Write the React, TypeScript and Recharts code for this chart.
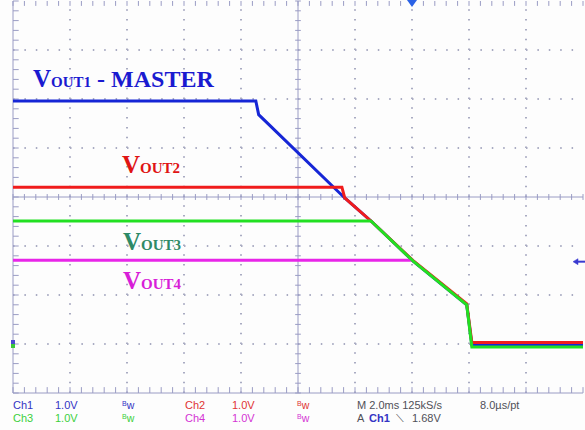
import React from "react";
import { LineChart, Line, XAxis, YAxis, ReferenceLine, ReferenceDot } from "recharts";

// Scope capture, 10 x 8 divisions (2.0 ms/div, 1.0 V/div). x = time in div, y = level in div.
const ch1Time = [0, 4.26, 4.31, 5.82, 6.3, 7.02, 7.96, 8.05, 10];
const ch1Level = [5.96, 5.96, 5.68, 3.98, 3.49, 2.69, 1.8, 0.98, 0.98];

const ch2Time = [0, 5.77, 5.82, 6.3, 7.02, 7.96, 8.05, 10];
const ch2Level = [4.2, 4.2, 3.98, 3.49, 2.7, 1.82, 1.03, 1.03];

const ch4Time = [0, 7.02];
const ch4Level = [2.71, 2.71];

const ch3Time = [0, 6.28, 6.3, 7.02, 7.96, 8.05, 10];
const ch3Level = [3.51, 3.51, 3.49, 2.69, 1.8, 0.94, 0.94];

const DIV_X = 10;
const DIV_Y = 8;
const triggerTime = 7;
const triggerLevel = 2.68;
const groundLevel = 1;

const COLOR_CH1 = "#1626d6";
const COLOR_CH2 = "#f01c1c";
const COLOR_CH3 = "#22e022";
const COLOR_CH4 = "#e826e8";
const AXIS = "#9a9cc4";
const DOTS = "#a9abc2";

const toPoints = (t: number[], v: number[]) => t.map((x, i) => ({ x, y: v[i] }));

const range = (n: number, step: number) => Array.from({ length: n + 1 }, (_, i) => +(i * step).toFixed(3));

const minorX = range(DIV_X * 5, 0.2);
const minorY = range(DIV_Y * 5, 0.2);

function Label({ x, y, main, sub, color, rest }: { x: number; y: number; main: string; sub: string; color: string; rest?: string }) {
  return (
    <text x={x} y={y} fill={color} fontFamily="'Liberation Serif', 'Times New Roman', serif" fontWeight="bold">
      <tspan fontSize={25}>{main}</tspan>
      <tspan fontSize={15}>{sub}</tspan>
      {rest && <tspan fontSize={24}>{rest}</tspan>}
    </text>
  );
}

function Bw({ x, y, color }: { x: number; y: number; color: string }) {
  return (
    <text x={x} y={y} fill={color} fontFamily="'Liberation Sans', Arial, sans-serif">
      <tspan fontSize={7} dy={-3}>B</tspan>
      <tspan fontSize={10.5} dy={3}>w</tspan>
    </text>
  );
}

export default function App() {
  const gridSolid = { stroke: AXIS, strokeWidth: 1, ifOverflow: "visible" as const };
  const trace = { dataKey: "y", type: "linear" as const, strokeWidth: 3, dot: false, isAnimationActive: false };
  return (
    <div style={{ position: "absolute", left: 0, top: 0, width: 585, height: 430, background: "#fdfdfd" }}>
      <LineChart width={585} height={430} margin={{ top: 1, right: 2, left: 13, bottom: 37 }}>
        <XAxis type="number" dataKey="x" domain={[0, DIV_X]} hide allowDataOverflow />
        <YAxis type="number" dataKey="y" domain={[0, DIV_Y]} hide allowDataOverflow />

        {/* dotted graticule */}
        {[1, 2, 3, 5, 6, 7].map((v) => (
          <ReferenceLine key={"h" + v} y={v} stroke={DOTS} strokeWidth={2} strokeDasharray="1.5 9.9" />
        ))}
        {[1, 2, 3, 4, 6, 7, 8, 9].map((d) => (
          <ReferenceLine key={"v" + d} x={d} stroke={DOTS} strokeWidth={2} strokeDasharray="1.5 8.3" />
        ))}

        {/* centre axes and frame */}
        <ReferenceLine x={5} {...gridSolid} />
        <ReferenceLine y={4} {...gridSolid} />
        <ReferenceLine x={0} {...gridSolid} />
        <ReferenceLine y={0} {...gridSolid} />
        {minorY.map((v) => (
          <ReferenceLine key={"cy" + v} segment={[{ x: 4.95, y: v }, { x: 5.05, y: v }]} {...gridSolid} />
        ))}
        {minorX.map((d) => (
          <ReferenceLine key={"cx" + d} segment={[{ x: d, y: 3.94 }, { x: d, y: 4.06 }]} {...gridSolid} />
        ))}
        {minorY.map((v) => (
          <ReferenceLine key={"ly" + v} segment={[{ x: 0, y: v }, { x: 0.1, y: v }]} {...gridSolid} />
        ))}
        {minorX.map((d) => (
          <ReferenceLine key={"bx" + d} segment={[{ x: d, y: 0 }, { x: d, y: 0.12 }]} {...gridSolid} />
        ))}
        {minorX.map((d) => (
          <ReferenceLine key={"tx" + d} segment={[{ x: d, y: DIV_Y }, { x: d, y: DIV_Y - 0.1 }]} {...gridSolid} />
        ))}

        <Line data={toPoints(ch1Time, ch1Level)} stroke={COLOR_CH1} {...trace} />
        <Line data={toPoints(ch2Time, ch2Level)} stroke={COLOR_CH2} {...trace} />
        <Line data={toPoints(ch4Time, ch4Level)} stroke={COLOR_CH4} {...trace} />
        <Line data={toPoints(ch3Time, ch3Level)} stroke={COLOR_CH3} {...trace} />

        {/* trigger position, trigger level, ground markers */}
        <ReferenceDot
          x={triggerTime}
          y={DIV_Y}
          ifOverflow="visible"
          shape={(p: any) => <path d={`M${p.cx - 5},${p.cy - 1} L${p.cx + 5},${p.cy - 1} L${p.cx},${p.cy + 6} Z`} fill="#2a62e6" />}
        />
        <ReferenceDot
          x={9.93}
          y={triggerLevel}
          ifOverflow="visible"
          shape={(p: any) => (
            <g stroke="#3a3ad0" strokeWidth={2} fill="#3a3ad0">
              <line x1={p.cx - 3} y1={p.cy} x2={p.cx + 6} y2={p.cy} />
              <path d={`M${p.cx - 6},${p.cy} L${p.cx - 1},${p.cy - 3} L${p.cx - 1},${p.cy + 3} Z`} strokeWidth={0.5} />
            </g>
          )}
        />
        <ReferenceDot
          x={0}
          y={groundLevel}
          ifOverflow="visible"
          shape={(p: any) => (
            <g>
              <rect x={p.cx - 2} y={p.cy - 4} width={4} height={4} fill="#4a4ad0" />
              <rect x={p.cx - 2} y={p.cy} width={4} height={4} fill="#3ac83a" />
            </g>
          )}
        />
      </LineChart>

      <svg width={585} height={430} style={{ position: "absolute", left: 0, top: 0, pointerEvents: "none" }}>
        <Label x={33} y={87} main="V" sub="OUT1" rest=" - MASTER" color="#1a1ad0" />
        <Label x={122} y={173} main="V" sub="OUT2" color="#e01414" />
        <Label x={123} y={250} main="V" sub="OUT3" color="#2e8a66" />
        <Label x={123} y={289} main="V" sub="OUT4" color="#d81ed8" />

        <g fontFamily="'Liberation Sans', Arial, sans-serif" fontSize={11}>
          <text x={13} y={409} fill="#3434c4">Ch1</text>
          <text x={55} y={409} fill="#3434c4">1.0V</text>
          <Bw x={122} y={409} color="#3434c4" />
          <text x={185} y={409} fill="#e03434">Ch2</text>
          <text x={232} y={409} fill="#e03434">1.0V</text>
          <Bw x={297} y={409} color="#e03434" />
          <text x={357} y={409} fill="#505058">M 2.0ms 125kS/s</text>
          <text x={480} y={409} fill="#505058">8.0µs/pt</text>

          <text x={13} y={422} fill="#3cd03c">Ch3</text>
          <text x={55} y={422} fill="#3cd03c">1.0V</text>
          <Bw x={122} y={422} color="#3cd03c" />
          <text x={185} y={422} fill="#d434d4">Ch4</text>
          <text x={232} y={422} fill="#d434d4">1.0V</text>
          <Bw x={297} y={422} color="#d434d4" />
          <text x={357} y={422} fill="#505058">A</text>
          <text x={369} y={422} fill="#3434c4" fontWeight="bold">Ch1</text>
          <text x={396} y={422} fill="#505058">⟍</text>
          <text x={412} y={422} fill="#505058">1.68V</text>
        </g>
      </svg>
    </div>
  );
}
